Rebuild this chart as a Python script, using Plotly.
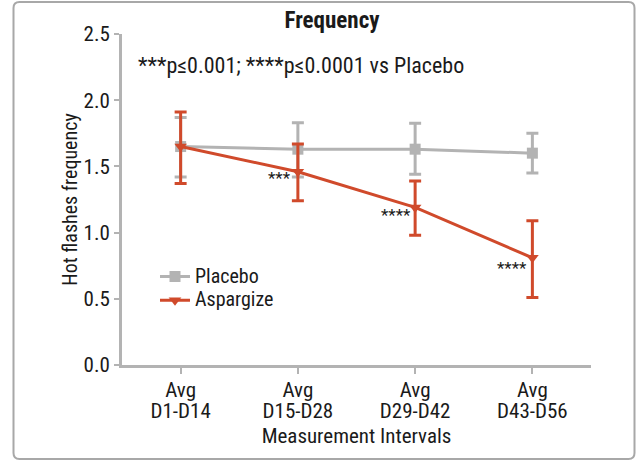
import plotly.graph_objects as go

tick_line1 = ["Avg", "Avg", "Avg", "Avg"]
tick_line2 = ["D1-D14", "D15-D28", "D29-D42", "D43-D56"]
placebo = [1.65, 1.63, 1.63, 1.60]
placebo_hi = [1.87, 1.83, 1.825, 1.75]
placebo_lo = [1.42, 1.42, 1.44, 1.45]
asp = [1.65, 1.46, 1.19, 0.81]
asp_hi = [1.91, 1.67, 1.39, 1.09]
asp_lo = [1.37, 1.24, 0.98, 0.51]
stars = ["", "***", "****", "****"]
y_ticks = [0.0, 0.5, 1.0, 1.5, 2.0, 2.5]

GREY = "#b3b3b3"
RED = "#d04a2b"
FONT = "Roboto Condensed"
TXT = "#1a1a1a"

def big(s, size):
    return f'<span style="font-size:{size}px">{s}</span>'

xs = list(range(len(tick_line1)))
ticktext = [big(a, 21) + "<br>" + big(b, 21) for a, b in zip(tick_line1, tick_line2)]

fig = go.Figure()
fig.add_trace(go.Scatter(
    x=xs, y=placebo, name=big("Placebo", 20), mode="lines+markers",
    line=dict(color=GREY, width=3),
    marker=dict(symbol="square", size=11, color=GREY),
    error_y=dict(type="data", symmetric=False,
                 array=[h - v for h, v in zip(placebo_hi, placebo)],
                 arrayminus=[v - l for l, v in zip(placebo_lo, placebo)],
                 color=GREY, thickness=3, width=6),
))
fig.add_trace(go.Scatter(
    x=xs, y=asp, name=big("Aspargize", 20), mode="lines+markers",
    line=dict(color=RED, width=3),
    marker=dict(symbol="triangle-down", size=11, color=RED),
    error_y=dict(type="data", symmetric=False,
                 array=[h - v for h, v in zip(asp_hi, asp)],
                 arrayminus=[v - l for l, v in zip(asp_lo, asp)],
                 color=RED, thickness=3, width=6),
))

shifts = [(0, 0), (-5, -6), (-2, -8), (-3, -10)]
for i, s in enumerate(stars):
    if s:
        fig.add_annotation(x=xs[i], y=asp[i], text=s, showarrow=False,
                           xanchor="right", yanchor="middle",
                           xshift=shifts[i][0], yshift=shifts[i][1],
                           font=dict(family=FONT, size=17, color=TXT))

L, R, T, B = 122, 591, 34, 365
W, H = R - L, B - T
def px(xp): return (xp - L) / W
def py(yp): return (B - yp) / H

fig.add_annotation(x=px(136), y=py(65), xref="paper", yref="paper",
                   text="***p≤0.001; ****p≤0.0001 vs Placebo", showarrow=False,
                   xanchor="left", yanchor="middle",
                   font=dict(family=FONT, size=22, color=TXT))

# rounded border around the figure
x0, x1, y0, y1, r = 13.5, 634.5, 2, 459, 6
path = (f"M {px(x0+r)},{py(y0)} L {px(x1-r)},{py(y0)} Q {px(x1)},{py(y0)} {px(x1)},{py(y0+r)} "
        f"L {px(x1)},{py(y1-r)} Q {px(x1)},{py(y1)} {px(x1-r)},{py(y1)} "
        f"L {px(x0+r)},{py(y1)} Q {px(x0)},{py(y1)} {px(x0)},{py(y1-r)} "
        f"L {px(x0)},{py(y0+r)} Q {px(x0)},{py(y0)} {px(x0+r)},{py(y0)} Z")
fig.add_shape(type="path", path=path, xref="paper", yref="paper",
              line=dict(color="#a8a8a8", width=2), layer="below")

fig.update_layout(
    width=637, height=462,
    margin=dict(l=L, r=637 - R, t=T, b=462 - B, autoexpand=False),
    paper_bgcolor="white", plot_bgcolor="white",
    font=dict(family=FONT, size=20, color=TXT),
    title=dict(text="<b>Frequency</b>", x=px(332), xref="paper", xanchor="center",
               y=1 - 20 / 462, yanchor="middle", font=dict(size=23, family=FONT, color=TXT)),
    showlegend=True,
    legend=dict(x=px(155), y=py(288.5), xanchor="left", yanchor="middle",
                bgcolor="rgba(0,0,0,0)", font=dict(size=16, family=FONT, color=TXT),
                itemwidth=30, borderwidth=0, tracegroupgap=0),
    xaxis=dict(range=[-0.5, 3.5], tickmode="array", tickvals=xs, ticktext=ticktext,
               tickfont=dict(size=16, family=FONT, color=TXT), ticklabelstandoff=4,
               showline=True, linecolor=GREY, linewidth=3, showgrid=False, zeroline=False,
               ticks="outside", ticklen=6, tickwidth=2, tickcolor=GREY,
               title=dict(text="Measurement Intervals", standoff=7,
                          font=dict(size=21, family=FONT, color=TXT))),
    yaxis=dict(range=[0, 2.5], tickmode="array", tickvals=y_ticks, tickformat=".1f",
               showline=True, linecolor=GREY, linewidth=3, showgrid=False, zeroline=False,
               ticks="outside", ticklen=5, tickwidth=2, tickcolor=GREY,
               tickfont=dict(size=21, family=FONT, color=TXT),
               title=dict(text="Hot flashes frequency", standoff=1,
                          font=dict(size=20, family=FONT, color=TXT))),
)

fig.write_html("out.html", config={"displayModeBar": False},
               post_script="document.body.style.margin='0';document.body.style.overflow='hidden';")
